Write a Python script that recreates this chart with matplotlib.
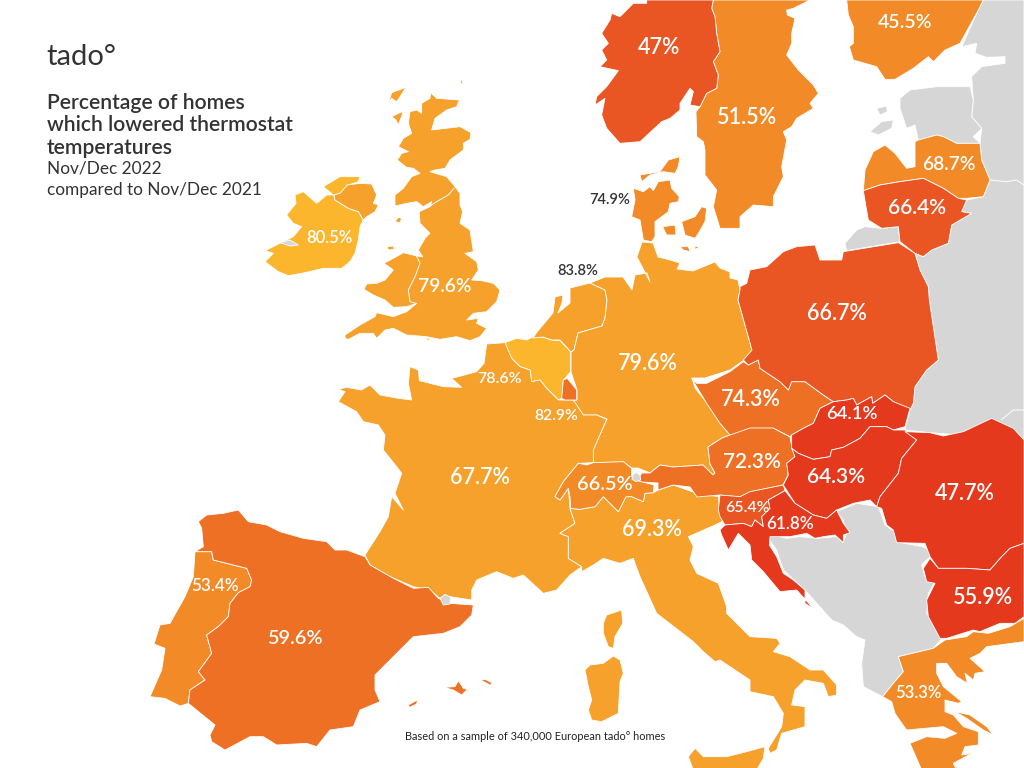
import matplotlib
matplotlib.use("Agg")
import matplotlib.pyplot as plt

plt.rcParams['font.family'] = ['Lato', 'DejaVu Sans']

Z1, Z2, Z3, Z4, Z5, Z6 = (260, 80), (330, 300), (680, 360), (590, 0), (130, 500), (560, 500)

def z(origin, pts):
    return [(origin[0] + a / 3, origin[1] + b / 3) for a, b in pts]

# ---------- chart values ----------
label_texts = ["47%", "51.5%", "45.5%", "68.7%", "66.4%", "74.9%", "83.8%", "80.5%", "79.6%", "79.6%", "66.7%",
               "78.6%", "82.9%", "74.3%", "64.1%", "72.3%", "64.3%", "47.7%", "67.7%", "66.5%", "69.3%", "65.4%",
               "61.8%", "55.9%", "53.4%", "59.6%", "53.3%"]
label_x = [659, 747, 905, 949, 917, 610, 578, 329, 445, 648, 837, 500, 556, 751, 852, 752, 836, 965, 480, 605, 652,
           747, 790, 983, 215, 295, 918]
label_y = [48, 117, 23, 165, 208, 200, 271, 238, 287, 364, 313, 379, 416, 399, 414, 462, 477, 494, 477, 485, 529,
           508, 524, 598, 586, 638, 693]
label_sizes = [15.5, 15.5, 14, 13.8, 15, 10.5, 10.5, 12, 13.8, 15.5, 15.5, 11.5, 11.3, 15.5, 13.3, 15, 15, 15.5, 15.5,
               14.3, 15.5, 11.5, 12.3, 15.5, 12.3, 14.3, 12]
label_colors = ['w', 'w', 'w', 'w', 'w', '#333333', '#333333'] + ['w'] * 20

# ---------- country colours ----------
C1, C2, C3, C4, C5, C6, C7 = '#FBB62E', '#F5A12C', '#F28A28', '#EE7025', '#EA5524', '#E5391E', '#D6D6D6'

# ---------- outlines ----------
ireland = z(Z1, [(15,512),(60,490),(100,470),(125,440),(100,430),(80,405),(108,370),(105,345),(130,335),(170,370),(200,345),(220,345),(190,320),(240,290),(300,290),(295,305),(265,315),(240,340),(222,345),(225,360),(265,385),(295,395),(310,420),(300,440),(295,480),(285,520),(270,545),(245,565),(190,565),(135,578),(85,587),(55,575),(15,545),(40,520)])
n_ireland = z(Z1, [(222,345),(240,340),(262,315),(300,310),(335,312),(350,345),(340,370),(355,375),(345,395),(320,410),(310,420),(295,395),(265,385),(225,360)])
lough = z(Z1, [(60,488),(90,480),(115,495),(90,498)])
britain = z(Z1, [(512,38),(530,55),(598,60),(590,80),(560,90),(525,115),(515,150),(600,140),(633,158),(630,178),(610,190),(610,210),(570,240),(555,265),(525,270),(510,275),(560,290),(585,320),(600,340),(600,375),(608,395),(600,430),(630,450),(640,515),(615,520),(650,545),(655,570),(635,600),(665,602),(700,610),(720,630),(710,665),(680,695),(640,700),(620,720),(655,715),(650,730),(680,745),(660,770),(630,782),(590,770),(540,778),(500,770),(440,765),(400,745),(375,750),(350,775),(340,760),(300,760),(265,778),(255,775),(255,765),(300,735),(345,710),(350,698),(400,710),(440,695),(470,670),(440,680),(400,682),(375,660),(340,645),(312,628),(320,612),(350,610),(375,600),(400,570),(372,550),(400,535),(430,518),(470,528),(488,530),(475,510),(495,475),(510,460),(480,430),(478,395),(510,380),(515,365),(490,380),(470,365),(440,370),(405,378),(405,345),(430,325),(455,290),(480,280),(460,265),(440,262),(412,240),(425,220),(445,215),(415,200),(430,175),(455,160),(445,130),(450,95),(470,90),(485,100),(485,70),(510,55)])
uk_isles = [z(Z1, p) for p in [[(385,70),(395,38),(438,22),(420,50),(410,65),(395,55)], [(395,110),(415,100),(430,95),(415,135),(408,120)], [(600,5),(608,0),(608,15)], [(405,425),(415,412),(425,415),(420,428)], [(382,500),(400,498),(402,508),(385,510)], [(495,775),(515,778),(505,782)]]]
uk_lines = [z(Z1, [(510,378),(530,365),(565,345),(582,325)]), z(Z1, [(470,528),(480,550),(465,590),(445,630),(450,665),(468,670)])]

netherlands = [(537,332),(553,313),(555,297),(563,295),(562,303),(558,313),(570,303),(570,288),(590,283),(605,290),(607,300),(605,318),(602,326),(578,333),(574,350),(571,352),(560,340),(552,340),(543,337),(533,338)]
belgium = z(Z2, [(525,128),(560,115),(590,120),(610,110),(640,112),(665,120),(690,122),(722,155),(722,215),(700,240),(695,295),(685,300),(650,265),(630,240),(605,245),(600,210),(570,200),(545,175),(530,160)])
luxembourg = z(Z2, [(695,295),(700,240),(712,235),(740,270),(740,300),(705,300)])
germany = [(642,242),(653,243),(658,257),(670,260),(680,263),(677,269),(693,271),(715,262),(720,268),(730,272),(730,278),(738,280),(740,290),(738,300),(745,325),(752,350),(747,358),(730,370),(705,378),(692,378),(695,388),(707,403),(720,423),(730,435),(722,438),(708,447),(710,464),(715,473),(713,475),(703,465),(673,467),(660,465),(650,473),(638,468),(632,468),(623,462),(593,463),(593,450),(607,419),(597,415),(583,415),(573,400),(577,400),(577,390),(571,372),(571,352),(574,350),(578,333),(602,326),(605,318),(607,300),(605,290),(590,283),(605,277),(623,277),(632,290),(635,275),(647,273),(650,282),(637,257)]
france = z(Z2, [(525,128),(470,132),(462,190),(440,215),(385,230),(365,235),(395,262),(340,260),(268,242),(265,210),(240,200),(235,250),(245,300),(205,295),(150,285),(120,255),(95,270),(50,262),(25,268),(45,275),(25,305),(80,335),(100,365),(145,375),(165,405),(160,450),(200,500),(215,520),(195,580),(220,630),(185,590),(175,650),(150,695),(105,765),(120,795),(180,830),(250,860),(300,870),(330,895),(360,890),(425,900),(425,870),(440,840),(500,815),(550,835),(580,825),(640,880),(680,870),(720,825),(755,800),(715,775),(715,710),(690,700),(735,670),(720,625),(715,565),(690,600),(675,590),(700,545),(745,490),(790,488),(790,450),(830,358),(800,345),(760,345),(730,300),(685,300),(650,265),(630,240),(605,245),(600,210),(570,200),(545,175)])
switzerland = z(Z2, [(675,590),(700,545),(745,490),(770,495),(790,488),(880,485),(905,505),(905,530),(935,545),(972,555),(970,578),(945,580),(940,605),(905,590),(888,590),(865,635),(840,610),(820,590),(795,620),(750,628),(722,625),(720,590),(715,565),(690,600)])
liechtenstein = z(Z2, [(908,525),(918,517),(930,525),(932,540),(918,545),(906,538)])
austria = [(642,473),(650,473),(660,465),(673,467),(703,465),(713,475),(715,473),(710,464),(708,447),(722,438),(730,435),(750,428),(773,428),(790,437),(792,448),(795,457),(787,463),(788,475),(783,485),(750,492),(740,497),(720,495),(697,497),(690,487),(673,485),(658,490),(658,483),(642,482),(636,480)]
czechia = z(Z3, [(35,55),(50,70),(80,70),(150,35),(190,5),(205,15),(235,0),(240,25),(300,65),(325,90),(335,65),(375,65),(430,105),(460,125),(420,145),(400,190),(370,205),(335,225),(330,230),(280,205),(210,205),(185,225),(150,225),(120,190),(80,130)])
slovakia = z(Z3, [(460,125),(500,120),(520,115),(530,135),(575,110),(578,130),(615,105),(640,125),(690,145),(675,200),(640,210),(620,200),(570,200),(540,235),(490,262),(455,270),(450,290),(400,298),(355,280),(335,265),(335,225),(370,205),(400,190),(420,145)])
hungary = z(Z3, [(335,265),(355,280),(400,298),(450,290),(455,270),(490,262),(540,235),(570,200),(620,200),(640,210),(675,210),(710,240),(665,295),(655,340),(600,410),(590,440),(570,420),(520,430),(470,450),(440,475),(400,465),(345,430),(310,375),(325,345),(320,310),(345,290)])
romania = z(Z3, [(675,215),(750,218),(790,228),(850,215),(935,175),(1000,205),(1032,240),(1032,550),(990,565),(965,590),(930,630),(860,625),(775,625),(750,590),(735,550),(650,548),(640,510),(620,495),(605,445),(590,440),(600,410),(655,340),(665,295),(710,240)])
bulgaria = z(Z3, [(750,595),(775,625),(860,625),(930,630),(965,590),(990,565),(1032,550),(1032,770),(1005,790),(960,790),(900,815),(880,810),(800,835),(780,835),(745,770),(740,720),(765,670),(740,665),(730,625)])
balkans = z(Z6, [(830,35),(890,10),(955,20),(975,75),(1010,100),(1010,125),(1085,140),(1110,150),(1110,170),(1085,195),(1095,230),(1125,245),(1105,280),(1100,340),(1155,405),(1120,445),(1015,470),(1030,515),(1000,550),(968,590),(910,560),(905,490),(915,420),(890,410),(850,375),(815,360),(735,270),(670,210),(650,150),(625,115),(640,105),(680,115),(720,110),(770,115),(830,110),(850,128),(860,100),(850,60)])
croatia = z(Z3, [(120,510),(135,495),(190,490),(215,500),(225,480),(250,500),(245,470),(270,445),(265,420),(315,392),(345,430),(400,465),(440,475),(470,450),(490,490),(510,518),(490,525),(490,548),(465,525),(430,530),(405,535),(380,520),(330,530),(270,530),(268,555),(290,590),(310,640),(340,660),(375,690),(375,730),(455,780),(395,740),(350,690),(300,695),(250,635),(215,600),(210,555),(175,520),(145,570),(125,525)])
slovenia = z(Z3, [(120,405),(180,410),(210,395),(310,375),(315,392),(265,420),(270,445),(245,470),(250,500),(225,480),(215,500),(190,490),(135,495),(120,470),(115,450)])
italy = z(Z2, [(720,625),(750,628),(795,620),(820,590),(840,610),(865,635),(888,590),(905,590),(940,605),(945,580),(970,578),(985,570),(1030,555),(1100,580),(1165,590),(1170,640)]) + z(Z6, [(495,60),(465,75),(385,110),(400,140),(390,180),(410,220),(475,250),(500,320),(500,340),(570,410),(650,415),(660,430),(640,455),(690,470),(750,510),(790,510),(830,555),(830,585),(805,590),(790,550),(735,540),(705,570),(695,615),(735,620),(735,680),(665,700),(650,750),(630,760),(625,745),(665,680),(670,640),(640,590),(570,575),(570,540),(480,480),(465,485),(430,455),(400,425),(290,340),(240,230),(225,190),(220,175),(180,190),(130,175),(100,195),(65,215)]) + z(Z2, [(755,800),(715,775),(715,710),(690,700),(735,670)])
sardinia = z(Z6, [(75,510),(90,495),(130,490),(160,468),(180,480),(190,520),(180,545),(175,640),(125,665),(95,660),(85,630),(95,600),(85,560)])
corsica = z(Z6, [(130,370),(140,345),(185,330),(188,370),(165,410),(160,445),(145,440),(130,400)])
sicily = z(Z6, [(385,770),(405,745),(430,770),(500,770),(560,755),(615,740),(610,775),(590,810),(400,810)])
greece = z(Z6, [(1015,470),(1120,445),(1155,420),(1220,410),(1240,395),(1285,400),(1350,380),(1392,355),(1392,425),(1280,440),(1260,460),(1230,475),(1275,515),(1245,520),(1240,540),(1215,520),(1222,550),(1190,530),(1160,490),(1130,490),(1130,520),(1150,560),(1205,605),(1195,610),(1155,600),(1155,635),(1180,645),(1210,680),(1255,695),(1255,735),(1215,740),(1205,765),(1235,760),(1180,790),(1190,810),(1085,810),(1050,730),(1100,710),(1155,715),(1190,700),(1150,680),(1040,690),(1015,655),(1005,640),(995,605),(968,590),(1000,550),(1030,515)])
euboea = z(Z6, [(1185,635),(1230,645),(1280,680),(1300,705),(1270,690),(1220,655)])
spain = z(Z5, [(205,65),(230,45),(280,40),(325,30),(355,65),(410,75),(450,95),(520,115),(590,125),(615,150),(650,150),(705,170),(720,195),(790,235),(850,265),(895,262),(925,295),(960,310),(1030,315),(1025,345),(990,380),(940,400),(850,410),(780,480),(735,525),(735,570),(750,605),(690,630),(670,680),(600,690),(560,740),(530,730),(440,735),(400,710),(360,710),(285,750),(245,725),(240,705),(255,675),(175,610),(180,570),(225,540),(205,515),(245,460),(230,405),(265,380),(295,350),(300,310),(325,278),(360,260),(365,240),(350,205),(310,195),(250,180),(245,155),(195,155),(220,140),(215,85)])
portugal = z(Z5, [(195,155),(245,155),(250,180),(310,195),(350,205),(365,240),(360,260),(325,278),(300,310),(295,350),(265,380),(230,405),(245,460),(205,515),(225,540),(180,570),(175,610),(150,618),(105,595),(60,590),(95,510),(105,445),(72,432),(90,375),(120,370),(165,290),(190,230)])
andorra = z(Z5, [(930,295),(945,283),(963,292),(960,312),(940,315)])
balearics = [z(Z5, p) for p in [[(942,562),(975,560),(985,542),(1000,565),(1012,568),(995,585),(970,570)], [(1052,540),(1065,538),(1085,548),(1082,556)], [(835,615),(862,600),(860,612),(838,622)]]]
norway = z(Z4, [(130,10),(90,50),(65,40),(60,60),(35,100),(55,130),(35,150),(50,180),(30,200),(85,212),(50,260),(20,290),(15,315),(45,295),(35,345),(50,385),(90,430),(150,425),(215,365),(240,355),(270,330),(270,310),(300,265),(310,275),(300,315),(330,320),(350,280),(380,265),(385,225),(370,185),(390,155),(380,100),(375,50),(365,25),(370,0),(170,0),(170,10)])
sweden = z(Z4, [(370,0),(660,0),(610,25),(590,30),(592,45),(615,55),(605,100),(605,130),(590,165),(625,210),(670,255),(685,280),(660,310),(670,325),(620,355),(605,380),(580,395),(590,420),(575,500),(580,530),(550,590),(550,620),(490,615),(450,650),(450,685),(390,685),(370,620),(380,570),(345,525),(345,450),(340,425),(320,410),(318,335),(330,320),(350,280),(380,265),(385,225),(370,185),(390,155),(380,100),(375,50),(365,25)])
finland = z(Z4, [(770,0),(1180,0),(1165,30),(1110,130),(1065,150),(1030,185),(1015,170),(970,205),(915,238),(885,238),(860,200),(825,190),(790,180),(778,140),(790,130),(790,80),(775,45)])
estonia = z(Z4, [(930,295),(960,270),(1040,260),(1140,260),(1150,300),(1145,350),(1175,385),(1150,410),(1170,430),(1100,430),(1060,410),(1040,405),(985,420),(975,375),(950,385),(930,325)])
estonia_isles = [z(Z4, p) for p in [[(840,395),(875,365),(910,360),(905,385),(865,405)], [(860,325),(890,318),(892,335),(870,345)]]]
kaliningrad = z(Z4, [(765,730),(800,690),(825,680),(875,685),(925,680),(930,725),(770,752)])
east = z(Z4, [(1180,0),(1165,30),(1115,140),(1160,130),(1155,160),(1190,172),(1245,170),(1245,190),(1175,200),(1145,230),(1150,300),(1145,350),(1175,385),(1170,430),(1175,480),(1200,540),(1180,590),(1130,600),(1115,635),(1145,640),(1085,675),(1075,730),(1025,750),(1000,770),(975,760),(990,810),(1015,860),(1018,900)]) + z(Z3, [(775,0),(740,30),(705,80),(700,130),(690,150),(675,210),(750,218),(1032,240),(1032,0)]) + [(1024, 0)]
east_lines = [z(Z4, [(1200,540),(1250,545),(1280,540),(1302,555)]), z(Z3, [(965,178),(1000,150),(1032,150)])]
poland = z(Z4, [(450,860),(470,850),(480,810),(530,800),(580,755),(620,740),(675,735),(690,780),(755,780),(760,755),(925,728),(975,760),(990,810),(1015,860),(1018,900)]) + z(Z3, [(775,0),(740,30),(705,80),(700,130),(690,150),(640,125),(615,105),(578,130),(575,110),(530,135),(520,115),(500,120),(460,125),(430,105),(375,65),(335,65),(325,90),(300,65),(240,25),(235,0),(205,15),(190,0)]) + [(752,350),(745,325),(738,300),(740,290)]
lithuania = z(Z4, [(820,572),(870,555),(930,545),(1000,535),(1060,565),(1105,595),(1130,600),(1115,635),(1145,640),(1085,675),(1075,730),(1025,750),(1000,770),(975,760),(930,725),(925,680),(875,685),(835,660),(828,620)])
latvia = z(Z4, [(820,572),(825,510),(850,455),(885,435),(915,460),(950,505),(975,500),(975,425),(985,420),(1040,405),(1060,410),(1100,430),(1170,430),(1175,480),(1200,540),(1180,590),(1130,595),(1105,595),(1060,565),(1000,535),(930,545),(870,555)])
denmark = [z(Z4, p) for p in [[(130,565),(160,575),(180,560),(190,572),(205,545),(240,540),(245,565),(268,590),(265,605),(240,610),(235,635),(195,665),(195,710),(185,725),(160,720),(150,660),(125,650),(135,600)], [(150,525),(210,515),(235,480),(270,470),(265,500),(255,520),(220,515),(180,525),(155,545)], [(275,665),(315,650),(335,620),(350,625),(345,665),(325,700),(315,715),(285,705)], [(218,680),(255,675),(258,705),(230,705)], [(270,740),(295,740),(300,755),(280,750)], [(315,738),(328,742),(315,748)]]]

regions = [
    (C7, [east, balkans, kaliningrad, estonia] + estonia_isles),
    (C1, [ireland, belgium]),
    (C2, [n_ireland, britain, netherlands, germany, france, italy, sardinia, corsica, sicily] + uk_isles),
    (C3, [sweden, finland, latvia, portugal, switzerland, greece, euboea] + denmark),
    (C4, [czechia, austria, spain, luxembourg] + balearics),
    (C5, [norway, poland, lithuania, slovenia]),
    (C6, [slovakia, hungary, romania, bulgaria, croatia]),
    (C7, [liechtenstein, andorra, lough]),
]

fig = plt.figure(figsize=(10.24, 7.68), dpi=100, facecolor='white')
ax = fig.add_axes([0, 0, 1, 1])
ax.set_xlim(0, 1024)
ax.set_ylim(768, 0)
ax.axis('off')

for color, polys in regions:
    for p in polys:
        ax.fill([q[0] for q in p], [q[1] for q in p], facecolor=color, edgecolor='white', linewidth=0.6, joinstyle='round')
for ln in uk_lines + east_lines:
    ax.plot([q[0] for q in ln], [q[1] for q in ln], color='white', lw=0.7)

for t, x, y, s, c in zip(label_texts, label_x, label_y, label_sizes, label_colors):
    ax.text(x, y, t, ha='center', va='center', fontsize=s, color=c, fontweight=600)

dark = '#333333'
ax.text(46, 57, "tado°", fontsize=21, color=dark, va='center', ha='left')
ax.text(47, 103, "Percentage of homes", fontsize=15.2, fontweight=600, color=dark, va='center')
ax.text(47, 125, "which lowered thermostat", fontsize=15.2, fontweight=600, color=dark, va='center')
ax.text(47, 148, "temperatures", fontsize=15.2, fontweight=600, color=dark, va='center')
ax.text(47, 169, "Nov/Dec 2022", fontsize=12.4, color=dark, va='center')
ax.text(47, 190, "compared to Nov/Dec 2021", fontsize=12.4, color=dark, va='center')
ax.text(405, 737, "Based on a sample of 340,000 European tado° homes", fontsize=7.9, color='#222222', va='center')

fig.savefig("out.png", dpi=100, facecolor='white')
